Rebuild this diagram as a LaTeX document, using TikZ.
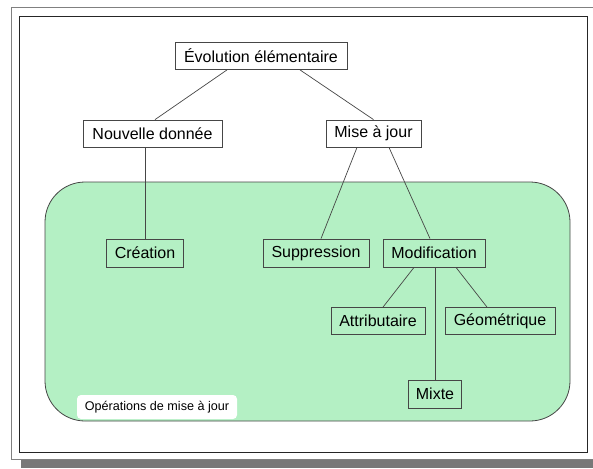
\documentclass[tikz,border=0pt]{standalone}
\usepackage{fontspec}
\setmainfont{Liberation Sans}
\definecolor{opgreen}{RGB}{180,240,196}
\definecolor{edge}{RGB}{70,70,70}
\definecolor{shadowgray}{RGB}{120,120,120}
\begin{document}
\begin{tikzpicture}[x=1pt,y=-1pt,
  box/.style={draw=edge,line width=0.8pt,inner sep=0pt,minimum height=27pt,font=\fontsize{16}{19}\selectfont},
  topbox/.style={box,fill=white},
  opbox/.style={box,fill=opgreen},
  link/.style={draw=edge,line width=0.7pt}]
\useasboundingbox (0,0) rectangle (593,468);
\fill[white] (0,0) rectangle (593,468);
% frame
\begin{scope}
\clip (0,0) rectangle (593,468);
\draw[gray,line width=0.8pt] (11,7) rectangle (600,459);
\end{scope}
\fill[shadowgray] (21,460) rectangle (593,468);
\draw[black!85,line width=0.8pt] (19,16) rectangle (587,452);
% operations area
\draw[edge,fill=opgreen,line width=0.8pt,rounded corners=40pt] (45,182) rectangle (570,421);
% nodes
\node[topbox,minimum width=172pt] (evo) at (261,56) {Évolution élémentaire};
\node[topbox,minimum width=139pt] (nouv) at (152.5,133.5) {Nouvelle donnée};
\node[topbox,minimum width=95pt] (mise) at (373.5,133.5) {Mise à jour};
\node[opbox,minimum width=77pt,minimum height=28pt] (crea) at (145,253) {Création};
\node[opbox,minimum width=106pt,minimum height=28pt] (supp) at (316,253) {Suppression};
\node[opbox,minimum width=102pt,minimum height=28pt] (modi) at (434,253) {Modification};
\node[opbox,minimum width=94pt,minimum height=27pt] (attr) at (378,321) {Attributaire};
\node[opbox,minimum width=110pt,minimum height=27pt] (geom) at (500,321) {Géométrique};
\node[opbox,minimum width=53pt,minimum height=28pt] (mixt) at (435,394) {Mixte};
\node[fill=white,rounded corners=4pt,minimum width=160pt,minimum height=24pt,inner sep=0pt,font=\fontsize{12.6}{15}\selectfont] (lab) at (157,407) {Opérations de mise à jour};
% connectors
\draw[link] ([xshift=-34pt]evo.south) -- ([xshift=2.5pt]nouv.north);
\draw[link] ([xshift=39pt]evo.south) -- (mise.north);
\draw[link] ([xshift=-7.5pt]nouv.south) -- (crea.north);
\draw[link] ([xshift=-16.5pt]mise.south) -- ([xshift=5pt]supp.north);
\draw[link] ([xshift=15.5pt]mise.south) -- ([xshift=-4pt]modi.north);
\draw[link] ([xshift=-20pt]modi.south) -- ([xshift=5pt]attr.north);
\draw[link] ([xshift=22pt]modi.south) -- ([xshift=-13pt]geom.north);
\draw[link] ([xshift=1pt]modi.south) -- (mixt.north);
\end{tikzpicture}
\end{document}
